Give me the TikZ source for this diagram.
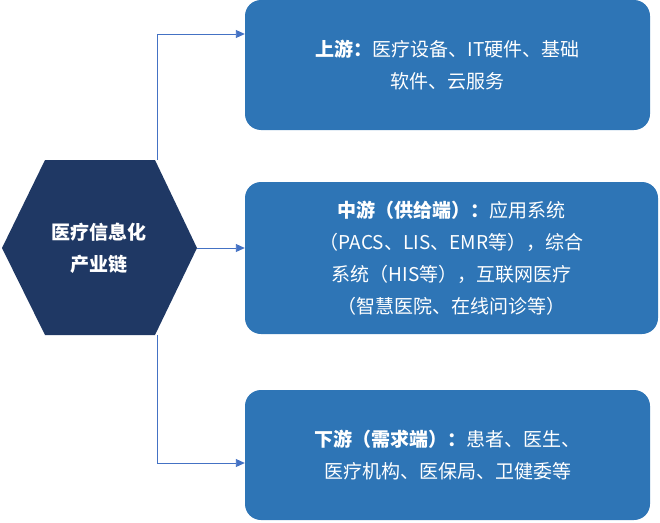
\documentclass[tikz,border=0pt]{standalone}
\usepackage{fontspec}
\newfontfamily\cjk{Noto Sans CJK SC}
\usetikzlibrary{arrows.meta}
\definecolor{boxblue}{HTML}{2E75B6}
\definecolor{navy}{HTML}{1F3864}
\definecolor{linec}{HTML}{4472C4}
\tikzset{
  box/.style={fill=boxblue, rounded corners=16pt, draw=none, text=white, align=center, font=\cjk\fontsize{19}{32}\selectfont, inner sep=0pt},
  conn/.style={draw=linec, line width=0.9pt, -{Triangle[length=9pt,width=8pt]}}
}
\begin{document}
\begin{tikzpicture}[x=1pt,y=-1pt]
\useasboundingbox (0,0) rectangle (660,522);
\fill[navy] (2,248) -- (45,160) -- (155,160) -- (197,248) -- (155,335) -- (45,335) -- cycle;
\coordinate (htop) at (157,160);
\coordinate (hbot) at (157,335);
\coordinate (hright) at (197,248);
\node[text=white, align=center, font=\cjk\bfseries\fontsize{19}{32}\selectfont] (hex) at (99,248) {医疗信息化\\产业链};
\node[box, minimum width=405pt, minimum height=130pt] (b1) at (447.5,65) {\textbf{上游：}医疗设备、IT硬件、基础\\软件、云服务};
\node[box, minimum width=413pt, minimum height=152pt] (b2) at (451.5,258) {\textbf{中游（供给端）：}应用系统\\（PACS、LIS、EMR等），综合\\系统（HIS等），互联网医疗\\（智慧医院、在线问诊等）};
\node[box, minimum width=405pt, minimum height=130pt] (b3) at (447.5,455) {\textbf{下游（需求端）：}患者、医生、\\医疗机构、医保局、卫健委等};
\draw[conn] (htop) |- (b1.west |- 0,34);
\draw[conn] (hright) -- (b2.west |- hright);
\draw[conn] (hbot) |- (b3.west |- 0,463);
\end{tikzpicture}
\end{document}
